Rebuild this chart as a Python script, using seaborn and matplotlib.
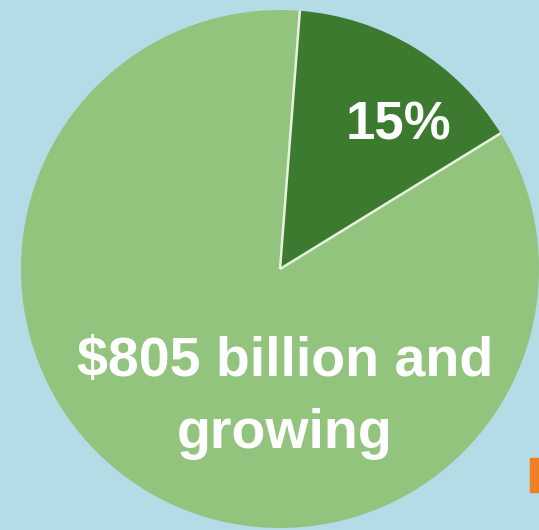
import matplotlib
matplotlib.use("Agg")
import numpy as np
import matplotlib.pyplot as plt
import seaborn as sns

labels = ["Share", "Rest"]
shares = [15, 85]
colors = ["#3b7a2f", "#93c47d"]
pct_label = "15%"
main_label = "$805 billion and\ngrowing"

sns.set_style("white")
plt.rcParams['font.family'] = ['Liberation Sans', 'DejaVu Sans']

fig = plt.figure(figsize=(5.39, 5.30), dpi=100)
fig.patch.set_facecolor("#b3dce6")
ax = fig.add_axes([0, 0, 1, 1])
ax.set_facecolor("#b3dce6")

wedges, _ = ax.pie(shares, colors=sns.color_palette(colors), startangle=85.6,
                   counterclock=False, center=(280, 261), radius=259,
                   wedgeprops=dict(linewidth=0))

# pale separator lines between the slices (no outer outline)
w = wedges[0]
cx, cy = w.center
for th in (w.theta1, w.theta2):
    t = np.deg2rad(th)
    ax.plot([cx, cx + w.r * np.cos(t)], [cy, cy + w.r * np.sin(t)],
            color="#e6f2dc", linewidth=1.8, solid_capstyle="butt")

ax.set_xlim(0, 539)
ax.set_ylim(0, 530)
ax.set_axis_off()

ax.text(398, 404, pct_label, color="white", fontsize=38, fontweight="bold",
        ha="center", va="center")
ax.text(285, 132, main_label, color="white", fontsize=40, fontweight="bold",
        ha="center", va="center", linespacing=1.5)

# small orange mark cut off at right edge
ax.add_patch(plt.Rectangle((530, 38), 14, 34, color="#f07f22", clip_on=True))

fig.savefig("out.png", dpi=100, facecolor=fig.get_facecolor())
